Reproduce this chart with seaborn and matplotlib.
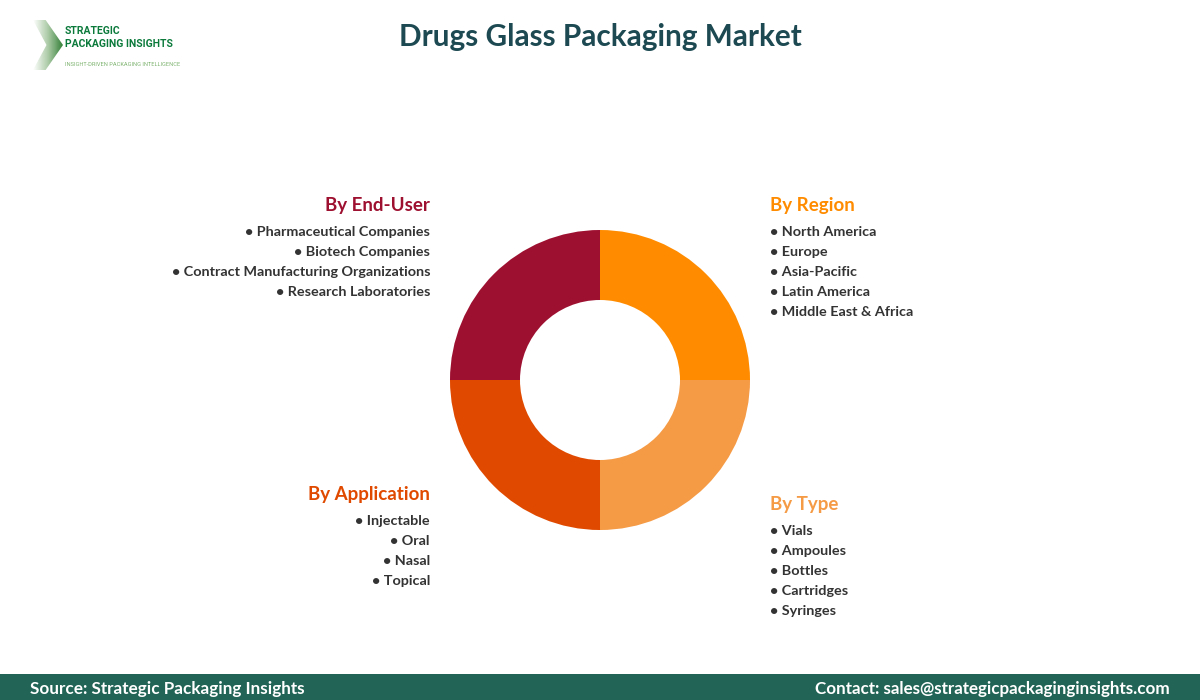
import numpy as np
import matplotlib
matplotlib.use("Agg")
import matplotlib.pyplot as plt
from matplotlib.patches import Rectangle, Polygon
import seaborn as sns

segments = ["By Region", "By Type", "By Application", "By End-User"]
shares = [25, 25, 25, 25]
colors = ["#FF8C00", "#F59A45", "#E04A00", "#9E1030"]
regions = ["North America", "Europe", "Asia-Pacific", "Latin America", "Middle East & Africa"]
types = ["Vials", "Ampoules", "Bottles", "Cartridges", "Syringes"]
applications = ["Injectable", "Oral", "Nasal", "Topical"]
end_users = ["Pharmaceutical Companies", "Biotech Companies",
             "Contract Manufacturing Organizations", "Research Laboratories"]

sns.set_theme(style="white")
FONT = "Lato"
plt.rcParams["font.family"] = [FONT, "DejaVu Sans"]
W, H = 1200, 700
fig = plt.figure(figsize=(12, 7), dpi=100, facecolor="white")
pal = sns.color_palette(colors)

def fx(x): return x / W
def fy(y): return 1 - y / H

ax = fig.add_axes([fx(450), fy(530), 300 / W, 300 / H])
ax.pie(shares, colors=pal, startangle=90, counterclock=False, radius=1,
       wedgeprops=dict(width=70 / 150, linewidth=0))
ax.set_xlim(-1, 1); ax.set_ylim(-1, 1); ax.set_aspect("equal"); ax.axis("off")

# Footer band
fig.add_artist(Rectangle((0, 0), 1, 26 / H, transform=fig.transFigure, color="#226556", lw=0))
fig.text(fx(30), fy(689), "Source: Strategic Packaging Insights", color="white",
         fontsize=12.3, fontweight="bold", va="center", ha="left")
fig.text(fx(1170), fy(689), "Contact: sales@strategicpackaginginsights.com", color="white",
         fontsize=12.25, fontweight="bold", va="center", ha="right")

fig.text(0.5, fy(37), "Drugs Glass Packaging Market", color="#1D4A52",
         fontsize=21.4, fontweight="bold", va="center", ha="center")

def block(x, y_head, head, color, items, ha):
    fig.text(fx(x), fy(y_head + 1.5), head, color=color, fontsize=13.5, fontweight="bold", va="center", ha=ha)
    for i, item in enumerate(items):
        fig.text(fx(x), fy(y_head + 27.7 + 20 * i), "\u2022 " + item, color="#333333",
                 fontsize=10.4, fontweight="bold", va="center", ha=ha)

block(770, 204, segments[0], colors[0], regions, "left")
block(770, 503, segments[1], colors[1], types, "left")
block(430, 493, segments[2], colors[2], applications, "right")
block(430, 204, segments[3], colors[3], end_users, "right")

# Logo
lax = fig.add_axes([fx(33), fy(70), 30 / W, 50 / H])
grad = np.linspace(0, 1, 64).reshape(1, -1)
cmap = matplotlib.colors.LinearSegmentedColormap.from_list("g", ["#FFFFFF", "#A9C9A4", "#2E7D32"])
im = lax.imshow(grad, extent=[0, 1, 0, 1], aspect="auto", cmap=cmap)
clip = Polygon([[0, 1], [0.42, 1], [1, 0.5], [0.42, 0], [0, 0], [0.45, 0.5]], transform=lax.transData)
im.set_clip_path(clip)
lax.axis("off")
fig.text(fx(65), fy(31), "STRATEGIC", color="#0B7A3B", fontsize=7.5, fontweight="bold",
         va="center", ha="left", family="Roboto")
fig.text(fx(65), fy(44), "PACKAGING INSIGHTS", color="#0B7A3B", fontsize=7.5, fontweight="bold",
         va="center", ha="left", family="Roboto")
fig.text(fx(65), fy(64.5), "INSIGHT-DRIVEN PACKAGING INTELLIGENCE", color="#7DB36F", fontsize=4.1,
         va="center", ha="left", family="Roboto")

fig.savefig("out.png", dpi=100)
